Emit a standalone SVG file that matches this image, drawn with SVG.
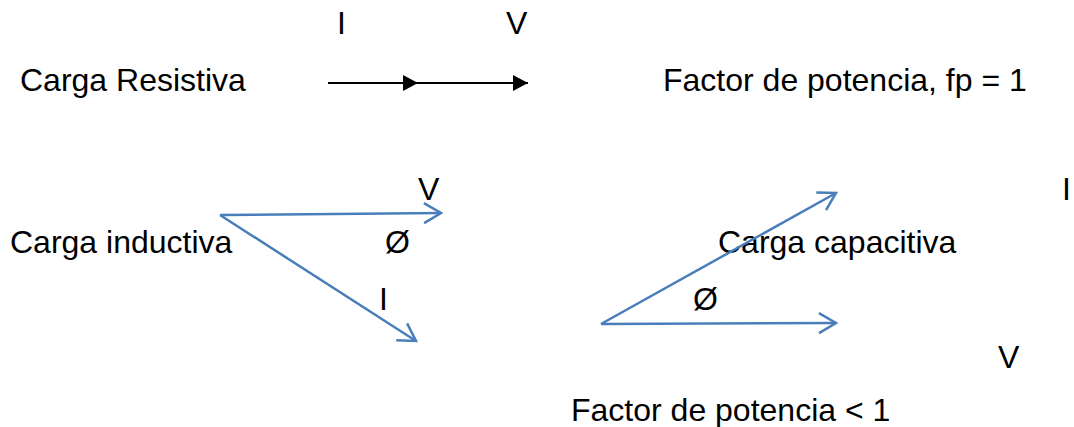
<svg xmlns="http://www.w3.org/2000/svg" width="1074" height="427" viewBox="0 0 1074 427">
<style>
text{font-family:"Liberation Sans",Arial,sans-serif;font-size:32px;fill:#000}
.blk{stroke:#000;stroke-width:2.2;fill:none}
.blu{stroke:#4A7EBB;stroke-width:2.5;fill:none}
</style>
<defs>
<marker id="tri" markerUnits="userSpaceOnUse" viewBox="-16 -9 17 18" refX="0" refY="0" markerWidth="17" markerHeight="18" orient="auto" overflow="visible">
<path d="M-15,-8 L0,0 L-15,8 Z" fill="#000"/>
</marker>
<marker id="chev" markerUnits="userSpaceOnUse" viewBox="-20 -12 22 24" refX="0" refY="0" markerWidth="22" markerHeight="24" orient="auto" overflow="visible">
<path d="M-17,-10 L0,0 L-17,10" fill="none" stroke="#4A7EBB" stroke-width="2.5"/>
</marker>
</defs>
<g id="labels">
<text x="337" y="34">I</text>
<text x="506" y="34">V</text>
<text x="20" y="91">Carga Resistiva</text>
<text x="663" y="91">Factor de potencia, fp = 1</text>
<text x="418" y="200">V</text>
<text x="1062" y="200">I</text>
<text x="10" y="253">Carga inductiva</text>
<text x="385" y="253">Ø</text>
<text x="718" y="253">Carga capacitiva</text>
<text x="379" y="310">I</text>
<text x="693" y="310">Ø</text>
<text x="998" y="368">V</text>
<text x="571" y="421">Factor de potencia &lt; 1</text>
</g>
<g id="connectors">
<line class="blk" x1="328" y1="83" x2="418" y2="83" marker-end="url(#tri)"/>
<line class="blk" x1="418" y1="83" x2="528" y2="83" marker-end="url(#tri)"/>
<line class="blu" x1="220" y1="215" x2="441" y2="213" marker-end="url(#chev)"/>
<line class="blu" x1="220" y1="215" x2="416" y2="341" marker-end="url(#chev)"/>
<line class="blu" x1="601" y1="324" x2="836" y2="193" marker-end="url(#chev)"/>
<line class="blu" x1="601" y1="324" x2="836" y2="323" marker-end="url(#chev)"/>
</g>
</svg>
